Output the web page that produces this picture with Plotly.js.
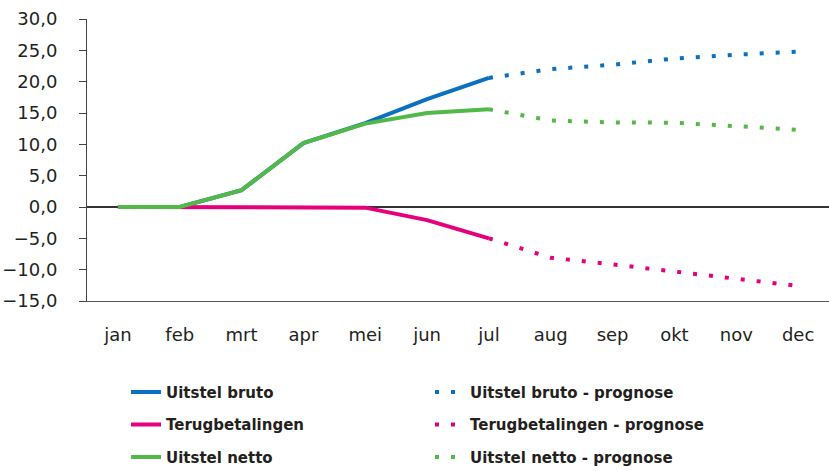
<!DOCTYPE html>
<html>
<head>
<meta charset="utf-8">
<script src="https://cdn.plot.ly/plotly-3.0.1.min.js"></script>
<style>html,body{margin:0;padding:0;background:#fff;}#chart{width:829px;height:471px;}</style>
</head>
<body>
<div id="chart"></div>
<script>
const months = ['jan','feb','mrt','apr','mei','jun','jul','aug','sep','okt','nov','dec'];
const actualMonths = ['jan','feb','mrt','apr','mei','jun','jul'];
const forecastMonths = ['jul','aug','sep','okt','nov','dec'];

const uitstelBruto = [0, 0, 2.7, 10.2, 13.4, 17.2, 20.6];
const terugbetalingen = [0, 0, 0, 0, -0.1, -2.1, -5.0];
const uitstelNetto = [0, 0, 2.7, 10.2, 13.3, 15.0, 15.6];

const uitstelBrutoPrognose = [20.6, 22.0, 22.7, 23.7, 24.3, 24.8];
const terugbetalingenPrognose = [-5.0, -8.1, -9.15, -10.25, -11.45, -12.6];
const uitstelNettoPrognose = [15.6, 13.8, 13.5, 13.45, 12.9, 12.3];

const yTicks = [-15, -10, -5, 0, 5, 10, 15, 20, 25, 30];

const BLUE = '#0a70c0', PINK = '#e5007d', GREEN = '#52b848';
const DOT = '4px,12px';

function tr(name, x, y, color, dash, legend, group) {
  return {
    type: 'scatter', mode: 'lines', name: name, x: x, y: y,
    line: {color: color, width: 4, dash: dash, shape: 'linear'},
    legend: legend, legendgroup: group, hoverinfo: 'skip'
  };
}

const data = [
  tr('Uitstel bruto', actualMonths, uitstelBruto, BLUE, 'solid', 'legend', 'a'),
  tr('Terugbetalingen', actualMonths, terugbetalingen, PINK, 'solid', 'legend', 'b'),
  tr('Uitstel netto', actualMonths, uitstelNetto, GREEN, 'solid', 'legend', 'c'),
  tr('Uitstel bruto - prognose', forecastMonths, uitstelBrutoPrognose, BLUE, DOT, 'legend2', 'd'),
  tr('Terugbetalingen - prognose', forecastMonths, terugbetalingenPrognose, PINK, DOT, 'legend2', 'e'),
  tr('Uitstel netto - prognose', forecastMonths, uitstelNettoPrognose, GREEN, DOT, 'legend2', 'f')
];

const legendFont = {family: 'DejaVu Sans, sans-serif', size: 15, color: '#231f20', weight: 'bold'};
const legendCommon = {
  orientation: 'v', xanchor: 'left', yanchor: 'top',
  font: legendFont, bgcolor: 'rgba(0,0,0,0)', borderwidth: 0,
  tracegroupgap: 10, traceorder: 'grouped', itemclick: false, itemdoubleclick: false
};

const layout = {
  width: 829, height: 471,
  margin: {l: 87, r: 0, t: 19, b: 170, pad: 0, autoexpand: false},
  paper_bgcolor: '#ffffff', plot_bgcolor: '#ffffff',
  font: {family: 'DejaVu Sans, sans-serif', size: 18, color: '#231f20'},
  separators: ',.',
  showlegend: true,
  xaxis: {
    type: 'category', categoryorder: 'array', categoryarray: months,
    range: [-0.5, 11.5], showgrid: false, zeroline: false,
    showline: true, linecolor: '#555', linewidth: 1,
    ticks: '', ticklabelstandoff: 17,
    tickfont: {family: 'DejaVu Sans, sans-serif', size: 18, color: '#231f20'},
    fixedrange: true
  },
  yaxis: {
    range: [-15, 30], tickvals: yTicks, tickformat: '.1f',
    showgrid: false, zeroline: true, zerolinecolor: '#333', zerolinewidth: 1.5,
    showline: true, linecolor: '#444', linewidth: 1,
    ticks: 'outside', ticklen: 7, tickcolor: '#444', tickwidth: 1,
    ticklabelstandoff: 18,
    tickfont: {family: 'DejaVu Sans, sans-serif', size: 18, color: '#231f20'},
    fixedrange: true
  },
  legend: Object.assign({x: 0.0526, y: -0.265}, legendCommon),
  legend2: Object.assign({x: 0.4623, y: -0.265}, legendCommon)
};

Plotly.newPlot('chart', data, layout, {staticPlot: true, displayModeBar: false});
</script>
</body>
</html>
